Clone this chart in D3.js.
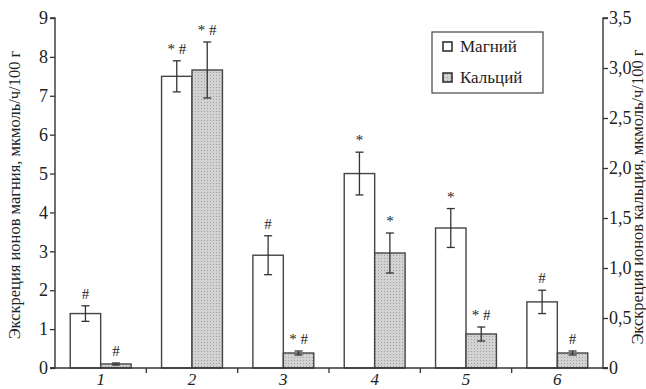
<!DOCTYPE html>
<html>
<head>
<meta charset="utf-8">
<script src="https://cdn.jsdelivr.net/npm/d3@7"></script>
<style>
  body { margin: 0; background: #fff; }
</style>
</head>
<body>
<svg id="chart" width="646" height="389"></svg>
<script>
// groups on the x axis
const groups = ["1", "2", "3", "4", "5", "6"];

// magnesium, left scale
const mgValues = [1.4, 7.5, 2.9, 5.0, 3.6, 1.7];
const mgErrors = [0.2, 0.4, 0.5, 0.55, 0.5, 0.3];
const mgMarks  = ["#", "* #", "#", "*", "*", "#"];

// calcium, right scale
const caValues = [0.04, 2.98, 0.15, 1.15, 0.34, 0.15];
const caErrors = [0.01, 0.28, 0.02, 0.2, 0.07, 0.02];
const caMarks  = ["#", "* #", "* #", "*", "* #", "#"];

const leftTicks  = [0, 1, 2, 3, 4, 5, 6, 7, 8, 9];
const rightTicks = [0, 0.5, 1.0, 1.5, 2.0, 2.5, 3.0, 3.5];
const seriesNames = ["Магний", "Кальций"];

const svg = d3.select("#chart");
const plotLeft = 55, plotRight = 603, plotTop = 18, plotBottom = 368;
const axisColor = "#333";
const serif = "'Liberation Serif', 'Times New Roman', serif";

const x = d3.scaleBand().domain(groups).range([plotLeft, plotRight]);
const xSub = d3.scaleBand().domain(["mg", "ca"]).range([0, x.bandwidth()])
    .paddingInner(0).paddingOuter(0.5);
const yL = d3.scaleLinear().domain([0, 9]).range([plotBottom, plotTop]);
const yR = d3.scaleLinear().domain([0, 3.5]).range([plotBottom, plotTop]);

// dotted fill for calcium bars
const defs = svg.append("defs");
const pat = defs.append("pattern")
    .attr("id", "dots")
    .attr("width", 3).attr("height", 3)
    .attr("patternUnits", "userSpaceOnUse");
pat.append("rect").attr("width", 3).attr("height", 3).attr("fill", "#d2d2d2");
pat.append("rect").attr("width", 1).attr("height", 1).attr("fill", "#a0a0a0");

/***** bars *****/
function drawSeries(key, values, errors, marks, y, fill) {
    const g = svg.append("g");
    groups.forEach((grp, i) => {
        const bx = x(grp) + xSub(key);
        const bw = xSub.bandwidth();
        const cx = bx + bw / 2;
        g.append("rect")
            .attr("x", bx).attr("y", y(values[i]))
            .attr("width", bw).attr("height", y(0) - y(values[i]))
            .attr("fill", fill)
            .attr("stroke", "#444").attr("stroke-width", 1.4);

        const hi = y(values[i] + errors[i]);
        const lo = y(values[i] - errors[i]);
        g.append("line")
            .attr("x1", cx).attr("x2", cx).attr("y1", hi).attr("y2", lo)
            .attr("stroke", "#333").attr("stroke-width", 1.3);
        [hi, lo].forEach(yy => {
            g.append("line")
                .attr("x1", cx - 4).attr("x2", cx + 4).attr("y1", yy).attr("y2", yy)
                .attr("stroke", "#333").attr("stroke-width", 1.3);
        });

        g.append("text")
            .attr("x", cx).attr("y", hi - 7)
            .attr("text-anchor", "middle")
            .style("font-size", "15px")
            .attr("fill", "#222")
            .text(marks[i]);
    });
}

drawSeries("mg", mgValues, mgErrors, mgMarks, yL, "#fff");
drawSeries("ca", caValues, caErrors, caMarks, yR, "url(#dots)");

/***** axes *****/
const axL = svg.append("g")
    .attr("transform", `translate(${plotLeft},0)`)
    .call(d3.axisLeft(yL).tickValues(leftTicks).tickSize(5).tickFormat(d3.format("d")));
const axR = svg.append("g")
    .attr("transform", `translate(${plotRight},0)`)
    .call(d3.axisRight(yR).tickValues(rightTicks).tickSize(5)
        .tickFormat(d => d === 0 ? "0" : d3.format(".1f")(d).replace(".", ",")));
const axB = svg.append("g")
    .attr("transform", `translate(0,${plotBottom})`)
    .call(d3.axisBottom(x).tickSize(0).tickPadding(5));

// little ticks between groups
groups.slice(1).forEach(grp => {
    axB.append("line")
        .attr("x1", x(grp)).attr("x2", x(grp))
        .attr("y1", 0).attr("y2", 5)
        .attr("stroke", axisColor).attr("stroke-width", 1.3);
});

[axL, axR, axB].forEach(a => {
    a.select(".domain").attr("stroke", axisColor).attr("stroke-width", 1.4);
    a.selectAll(".tick line").attr("stroke", axisColor).attr("stroke-width", 1.3);
    a.selectAll("text")
        .style("font-size", "18px")
        .attr("fill", "#222");
});
axL.select(".domain").attr("d", `M-5,${plotTop}H0V${plotBottom}H-5`);
axR.select(".domain").attr("d", `M5,${plotTop}H0V${plotBottom}H5`);
axB.select(".domain").attr("d", `M${plotLeft - 5},0H${plotRight + 5}`);
axL.selectAll(".tick text").attr("dx", 1);
axR.selectAll(".tick text").attr("dx", -2);
axB.selectAll(".tick text").style("font-style", "italic").style("font-size", "17px").attr("dy", "0.72em");

// axis titles
svg.append("text")
    .attr("transform", `translate(20,${(plotTop + plotBottom) / 2 + 2}) rotate(-90)`)
    .attr("text-anchor", "middle")
    .style("font-size", "16.5px")
    .attr("fill", "#222")
    .text("Экскреция ионов магния, мкмоль/ч/100 г");
svg.append("text")
    .attr("transform", `translate(643,${(plotTop + plotBottom) / 2 + 4}) rotate(-90)`)
    .attr("text-anchor", "middle")
    .style("font-size", "16.5px")
    .attr("fill", "#222")
    .text("Экскреция ионов кальция, мкмоль/ч/100 г");

/***** legend *****/
const lg = svg.append("g").attr("transform", "translate(432,32)");
lg.append("rect")
    .attr("width", 111).attr("height", 61)
    .attr("fill", "#fff").attr("stroke", "#444").attr("stroke-width", 1.2);
seriesNames.forEach((name, i) => {
    const yy = 15 + i * 31;
    lg.append("rect")
        .attr("x", 11).attr("y", yy - 5)
        .attr("width", 9).attr("height", 9)
        .attr("fill", i === 0 ? "#fff" : "url(#dots)")
        .attr("stroke", "#333").attr("stroke-width", 1.6);
    lg.append("text")
        .attr("x", 28).attr("y", yy + 5)
        .style("font-size", "17px")
        .attr("fill", "#222")
        .text(name);
});

// serif everywhere, as in the printed figure
svg.selectAll("text").style("font-family", serif);
</script>
</body>
</html>
